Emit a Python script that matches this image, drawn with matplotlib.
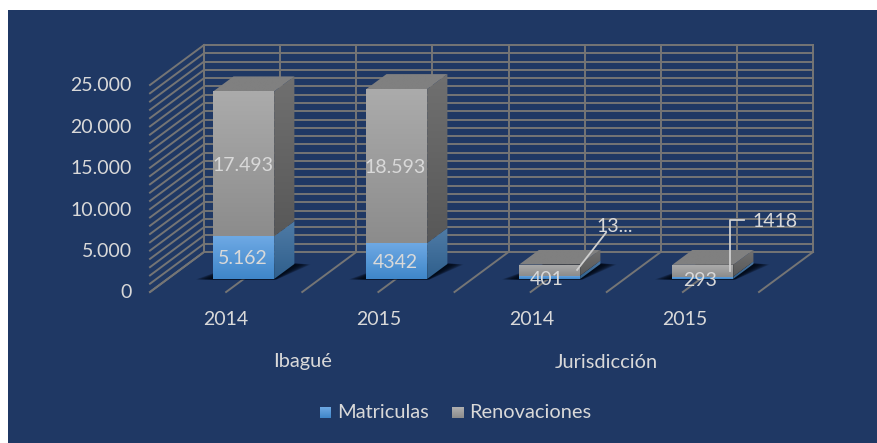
import numpy as np
import matplotlib
matplotlib.use('Agg')
import matplotlib.pyplot as plt
from matplotlib.patches import Polygon, Rectangle

# datos
grupos = ['Ibagué', 'Jurisdicción']
anios = ['2014', '2015', '2014', '2015']
matriculas = [5162, 4342, 401, 293]
renovaciones = [17493, 18593, 1350, 1418]
etiquetas_mat = ['5.162', '4342', '401', '293']
etiquetas_ren = ['17.493', '18.593', '13...', '1418']
ticks_y = [0, 5000, 10000, 15000, 20000, 25000]
ticks_txt = ['0', '5.000', '10.000', '15.000', '20.000', '25.000']

W, H = 878, 443
FONDO = '#1f3864'
REJILLA = '#757575'
TEXTO = '#d9d9d9'

# escala: plano frontal del piso en pixeles
PX_X = 152.25   # pixeles por categoria
PX_Y = 207 / 25000  # pixeles por unidad
X0, Y0 = 150, 292
DX, DY = 54 / PX_X, 40 / PX_Y  # profundidad total de la caja
SEP = 1.005  # separacion entre barras
AJUSTE = -150  # centra el texto en su valor

plt.rcParams['font.family'] = ['Lato', 'DejaVu Sans']

fig = plt.figure(figsize=(W / 100, H / 100), dpi=100, facecolor='white')
ax = fig.add_axes([0, 0, 1, 1])
ax.axis('off')


def proy(x, y, d=0.0):
    # punto 3D -> coordenadas del eje
    return x + d * DX, y + d * DY


def cara(pts, c1, c2, z):
    # cara con degradado vertical
    poly = Polygon(pts, closed=True, facecolor='none', edgecolor='none', zorder=z)
    ax.add_patch(poly)
    ys = [p[1] for p in pts]
    xs = [p[0] for p in pts]
    c = np.linspace(0, 1, 64)[:, None]
    a = np.array(matplotlib.colors.to_rgb(c1))
    b = np.array(matplotlib.colors.to_rgb(c2))
    img = (a + (b - a) * c)[:, None, :]
    im = ax.imshow(img, extent=[min(xs), max(xs), min(ys), max(ys)], origin='upper',
                   aspect='auto', zorder=z, interpolation='bilinear')
    im.set_clip_path(poly)


# fondo azul
ax.add_patch(Rectangle((8 / W, 0), 1 - 8 / W, 1 - 10 / H, transform=ax.transAxes,
                       facecolor=FONDO, edgecolor='none', zorder=0))

# rejilla: pared trasera y pared izquierda
n_cat = len(anios)
for v in range(0, 25001, 1000):
    ax.plot(*zip(proy(0, v, 1), proy(n_cat, v, 1)), color=REJILLA, lw=1.4, zorder=1)
    ax.plot(*zip(proy(0, v, 0), proy(0, v, 1)), color=REJILLA, lw=1.4, zorder=1)
for x in np.arange(0, n_cat + 0.1, 0.5):
    ax.plot(*zip(proy(x, 0, 1), proy(x, 25000, 1)), color=REJILLA, lw=1.4, zorder=1)
# lineas del piso
for x in np.arange(0, n_cat + 0.1, 0.5):
    ax.plot(*zip(proy(x, 0, 0), proy(x, 0, 1)), color=REJILLA, lw=1.4, zorder=1)

# barras
ANCHO = 0.4
D1, D2 = 0.325, 0.70
for i in range(n_cat):
    xc = 0.5 + i * SEP
    x1, x2 = xc - ANCHO / 2, xc + ANCHO / 2
    m = matriculas[i]
    t = m + renovaciones[i]

    # sombra en el piso
    for k in range(12):
        e = (12 - k) / 12 * 0.11
        sombra = [proy(x1 - e, 0, D1 - 0.01), proy(x2 + e * 0.2, 0, D1 - 0.01),
                  proy(x2 + e, 0, D2 + 0.02 - e * 0.3), proy(x1 + 0.03, 0, D2 + 0.02 - e * 0.3)]
        ax.add_patch(Polygon(sombra, closed=True, facecolor='#020814', edgecolor='none',
                             alpha=0.2, zorder=2))

    # frente
    cara([proy(x1, 0, D1), proy(x2, 0, D1), proy(x2, m, D1), proy(x1, m, D1)],
         '#6ea9e4', '#3f86c9', 3)
    cara([proy(x1, m, D1), proy(x2, m, D1), proy(x2, t, D1), proy(x1, t, D1)],
         '#ababab', '#8c8c8c', 3)
    # lado
    cara([proy(x2, 0, D1), proy(x2, 0, D2), proy(x2, m, D2), proy(x2, m, D1)],
         '#4f7ba6', '#2f5f8c', 3)
    cara([proy(x2, m, D1), proy(x2, m, D2), proy(x2, t, D2), proy(x2, t, D1)],
         '#707070', '#585858', 3)
    # tapa
    cara([proy(x1, t, D1), proy(x2, t, D1), proy(x2, t, D2), proy(x1, t, D2)],
         '#808080', '#808080', 3)

# etiquetas de datos
for i in range(n_cat):
    xc = 0.5 + i * SEP + D1 * DX - (0.006 if i == 0 else 0.012 if i == 1 else 0.018)
    base = D1 * DY + AJUSTE
    m, r = matriculas[i], renovaciones[i]
    ym = base + m / 2 - (150 if i > 1 else 0)
    ax.text(xc, ym, etiquetas_mat[i], color=TEXTO, fontsize=14,
            ha='center', va='center', zorder=6)
    if i < 2:
        ax.text(xc, base + m + r / 2, etiquetas_ren[i], color=TEXTO, fontsize=14,
                ha='center', va='center', zorder=6)

# lineas guia de Jurisdiccion
p = proy(0.5 + 2 * SEP + ANCHO / 2, 1100, D1)
ax.plot([p[0] - 0.02, p[0] + 0.17], [p[1], p[1] + 4500], color='#cfcfcf', lw=1.3, zorder=6)
ax.text(p[0] + 0.105, p[1] + 5400 + AJUSTE, etiquetas_ren[2], color=TEXTO, fontsize=14,
        ha='left', va='center', zorder=6)
p = proy(0.5 + 3 * SEP + ANCHO / 2, 1000, D1)
ax.plot([p[0] - 0.02, p[0] - 0.02, p[0] + 0.07], [p[1], p[1] + 6100, p[1] + 6100],
        color='#cfcfcf', lw=1.3, zorder=6)
ax.text(p[0] + 0.13, p[1] + 6050 + AJUSTE, etiquetas_ren[3], color=TEXTO, fontsize=14,
        ha='left', va='center', zorder=6)

# ejes
for v, s in zip(ticks_y, ticks_txt):
    ax.text(-18 / PX_X, v + AJUSTE + 50, s, color=TEXTO, fontsize=14, ha='right', va='center')
for i, s in enumerate(anios):
    ax.text(i * SEP + 0.5, -27.5 / PX_Y, s, color=TEXTO, fontsize=14, ha='center', va='center')
for j, s in enumerate(grupos):
    ax.text(2 * j + 1, -70 / PX_Y, s, color=TEXTO, fontsize=14.4, ha='center', va='center')

# leyenda
ley_x = [(320, 331, 337, 'Matriculas', '#6ea9e4', '#3f86c9'),
         (452, 464, 469, 'Renovaciones', '#b0b0b0', '#8c8c8c')]
for x1, x2, xt, s, c1, c2 in ley_x:
    fx1, fx2 = (x1 - X0) / PX_X, (x2 - X0) / PX_X
    fy1, fy2 = (Y0 - 418) / PX_Y, (Y0 - 407) / PX_Y
    cara([(fx1, fy1), (fx2, fy1), (fx2, fy2), (fx1, fy2)], c1, c2, 5)
    ax.text((xt - X0) / PX_X, (Y0 - 413) / PX_Y, s, color=TEXTO, fontsize=14.4,
            ha='left', va='center')

# limites: el eje cubre toda la figura
ax.set_xlim(-X0 / PX_X, (W - X0) / PX_X)
ax.set_ylim((Y0 - H) / PX_Y, Y0 / PX_Y)

fig.savefig('out.png', dpi=100, facecolor='white')
